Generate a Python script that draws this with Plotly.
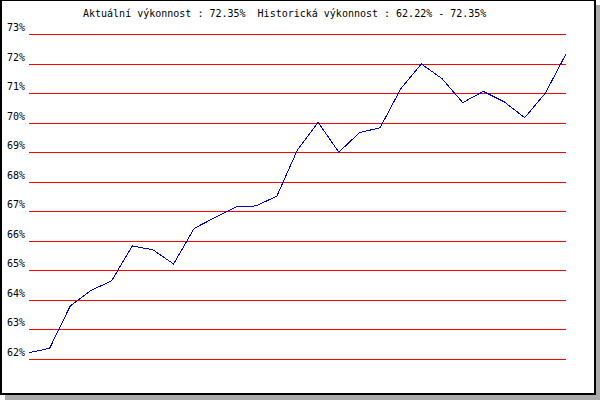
import plotly.graph_objects as go

# Data
days = list(range(27))
performance = [62.22, 62.37, 63.81, 64.33, 64.66, 65.84, 65.71, 65.23, 66.44, 66.81,
               67.16, 67.20, 67.53, 69.10, 70.03, 69.02, 69.68, 69.85, 71.17, 72.01,
               71.51, 70.70, 71.08, 70.73, 70.19, 71.02, 72.35]
tick_values = list(range(62, 74))
tick_labels = [f"{v}%" for v in tick_values]
title_text = ("Aktuální výkonnost : 72.35%\u00a0\u00a0Historická výkonnost : "
              "62.22% - 72.35%")

W, H = 600, 400
ML, MR, MT, MB = 29, 34, 33, 39
PW, PH = W - ML - MR, H - MT - MB


def px_x(p):
    return (p - ML) / PW


def px_y(p):
    return (H - MB - p) / PH


fig = go.Figure()
fig.add_trace(go.Scatter(x=days, y=performance, mode="lines",
                         line=dict(color="#0000c8", width=1),
                         hoverinfo="skip", showlegend=False))

shapes = [
    # gray drop shadow
    dict(type="rect", xref="paper", yref="paper", layer="below",
         x0=px_x(5), x1=px_x(600), y0=px_y(5), y1=px_y(400),
         fillcolor="#aaaaaa", line=dict(width=0)),
    # white frame with black border
    dict(type="rect", xref="paper", yref="paper", layer="below",
         x0=px_x(1), x1=px_x(595), y0=px_y(0), y1=px_y(394),
         fillcolor="white", line=dict(color="black", width=2)),
]

fig.update_layout(
    width=W, height=H,
    margin=dict(l=ML, r=MR, t=MT, b=MB, pad=0, autoexpand=False),
    paper_bgcolor="white", plot_bgcolor="rgba(0,0,0,0)",
    shapes=shapes,
    hovermode=False,
    font=dict(family="DejaVu Sans Mono", size=10, color="black"),
    title=dict(text=title_text, x=83 / W, xanchor="left", xref="container",
               y=1 - 13 / H, yanchor="middle", yref="container",
               font=dict(family="DejaVu Sans Mono", size=10, color="black")),
    xaxis=dict(range=[0, 26], visible=False, showgrid=False, zeroline=False,
               automargin=False),
    yaxis=dict(range=[61.94, 73.06], tickmode="array", tickvals=tick_values,
               ticktext=tick_labels, showgrid=True, gridcolor="#ff0000",
               gridwidth=1, zeroline=False, showline=False, ticks="",
               ticklabelposition="outside top", ticklabelstandoff=3,
               automargin=False,
               tickfont=dict(family="DejaVu Sans Mono", size=10, color="black")),
)

crisp_js = """
var s = document.createElement('style');
s.textContent = 'html,body{margin:0;padding:0;overflow:hidden;}' +
  '.ygrid{shape-rendering:crispEdges !important;}' +
  '.scatterlayer .js-line{shape-rendering:crispEdges !important;}';
document.head.appendChild(s);
"""

fig.write_html("out.html", post_script=crisp_js,
               config={"displayModeBar": False, "staticPlot": True})
